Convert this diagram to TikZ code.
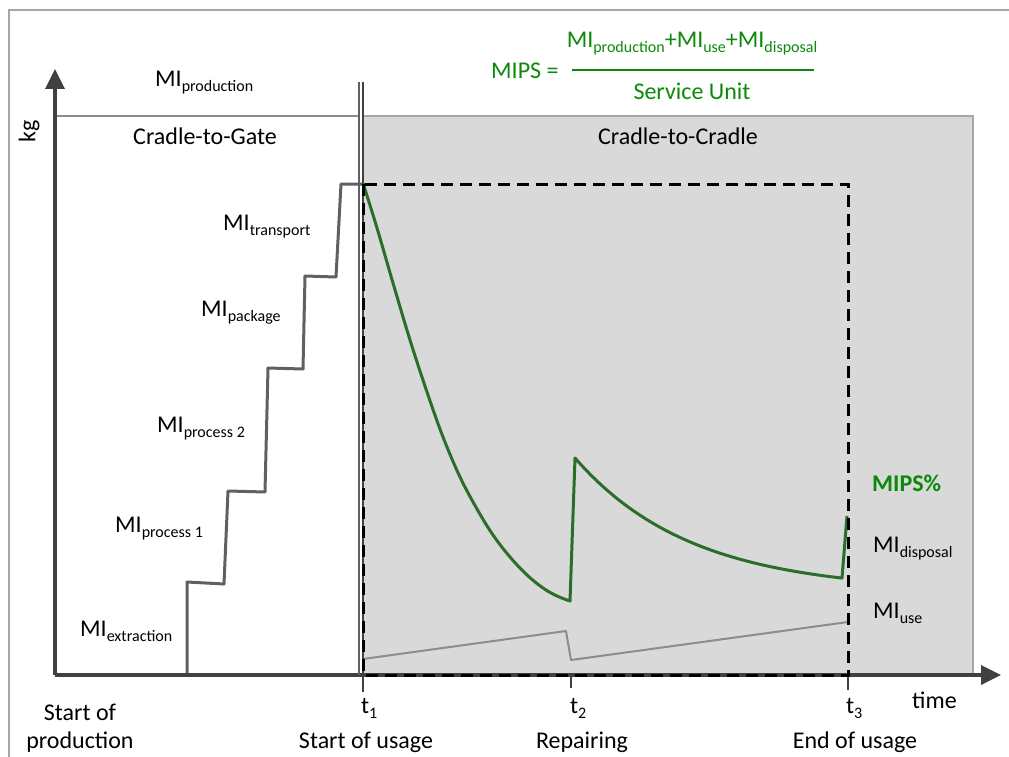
\documentclass[tikz,border=0pt]{standalone}
\usepackage{fontspec}
\setmainfont{Carlito}
\usetikzlibrary{arrows.meta}

\definecolor{framegray}{HTML}{A6A6A6}
\definecolor{axisgray}{HTML}{404040}
\definecolor{stairgray}{HTML}{606060}
\definecolor{usegray}{HTML}{8C8C8C}
\definecolor{regiongray}{HTML}{D9D9D9}
\definecolor{mipsgreen}{HTML}{0A8A0A}
\definecolor{curvegreen}{HTML}{2B6E2B}

% lowered index in a smaller size
\newcommand\lowidx[1]{\raisebox{-5pt}{\fontsize{16}{16}\selectfont #1}}

\begin{document}
\begin{tikzpicture}[x=1pt,y=-1pt,
  txt/.style={inner sep=0pt, font=\fontsize{24}{28}\selectfont},
  lbl/.style={txt, anchor=base west},
  ctr/.style={txt, anchor=base},
  frameline/.style={draw=framegray, line width=2pt},
  axisline/.style={draw=axisgray, line width=3.5pt, -{Triangle[length=20pt,width=19pt]}},
  tick/.style={draw=axisgray, line width=2pt},
  stairline/.style={draw=stairgray, line width=3pt, line join=round},
  useline/.style={draw=usegray, line width=2pt, line join=round},
  mipscurve/.style={draw=curvegreen, line width=3pt, line join=round},
  boundary/.style={draw=black, line width=3pt, dash pattern=on 12pt off 7pt},
  divider/.style={draw=axisgray, line width=2pt}]

\useasboundingbox (0,0) rectangle (1009,757);

% outer frame (top and left edges)
\draw[frameline] (1012,10) -- (9,10) -- (9,760);

% cradle-to-cradle region
\fill[regiongray] (363,116) rectangle (973,675);
\draw[draw=framegray, line width=2pt] (363,116) -- (973,116) -- (973,675);
\draw[draw=usegray, line width=1.5pt] (55,116) -- (359,116);

% staircase of the production phase
\draw[stairline] (187,675) -- (187,582) -- (224,584) -- (228,491) -- (265,492)
  -- (268,368) -- (303,369) -- (305,276) -- (336,277) -- (341,184) -- (363,184);

% material input during use
\draw[useline] (363,659) -- (566,631) -- (571,660) -- (848,622);

% MIPS curve: decline during use, repair jump, second decline, disposal jump
\draw[mipscurve]
  plot[smooth, tension=0.6] coordinates {(363,183) (377,228) (393,283) (410,340)
     (427,392) (443,437) (460,477) (477,509) (493,535) (510,557) (527,575)
     (543,588) (557,596) (570,601)}
  -- (575,458)
  -- plot[domain=575:842,samples=90] (\x,{458+133.4*(1-exp(-0.00862*(\x-575)))})
  -- (847,516);

% axes
\coordinate (origin) at (55,675);
\coordinate (ytip) at (55,69);
\coordinate (xtip) at (1001,675);
\draw[axisline] (origin) -- (ytip);
\draw[axisline] (origin) -- (xtip);

% start of usage divider (double line) and time ticks
\draw[draw=stairgray, line width=1.5pt] (359,82) -- (359,675);
\draw[divider] (363,82) -- (363,692);
\draw[tick] (571,675) -- (571,688);
\draw[tick] (848,675) -- (848,690);

% system boundary of the usage phase
\draw[boundary] (363,184) rectangle (848,675);

% formula
\node[lbl, text=mipsgreen] (mipseq) at (491,79) {MIPS =};
\node[ctr, text=mipsgreen] (numer) at (692,48)
  {MI\lowidx{production}+MI\lowidx{use}+MI\lowidx{disposal}};
\node[ctr, text=mipsgreen] (denom) at (692,100) {Service Unit};
\coordinate (barL) at (572,70);
\coordinate (barR) at (814,70);
\draw[draw=mipsgreen, line width=2pt] (barL) -- (barR);

% region titles
\node[ctr] (ctg) at (205,144) {Cradle-to-Gate};
\node[ctr] (ctc) at (678,144) {Cradle-to-Cradle};

% axis titles
\node[txt, rotate=90] (kg) at (29,131) {kg};
\node[lbl] (time) at (912,708) {time};

% production steps
\node[lbl] (mprod) at (155,87) {MI\lowidx{production}};
\node[lbl] (mtrans) at (223,230) {MI\lowidx{transport}};
\node[lbl] (mpack) at (201,316) {MI\lowidx{package}};
\node[lbl] (mproc2) at (157,432) {MI\lowidx{process 2}};
\node[lbl] (mproc1) at (115,532) {MI\lowidx{process 1}};
\node[lbl] (mextr) at (80,636) {MI\lowidx{extraction}};

% usage phase labels
\node[lbl, text=mipsgreen, font=\fontsize{24}{28}\selectfont\bfseries] (mipspct) at (872,491) {MIPS\%};
\node[lbl] (mdisp) at (873,552) {MI\lowidx{disposal}};
\node[lbl] (muse) at (873,618) {MI\lowidx{use}};

% time points
\node[lbl] (t1) at (361,713) {t\lowidx{1}};
\node[lbl] (t2) at (570,713) {t\lowidx{2}};
\node[lbl] (t3) at (846,713) {t\lowidx{3}};
\node[ctr] (startp1) at (80,720) {Start of};
\node[ctr] (startp2) at (80,748) {production};
\node[ctr] (startu) at (366,748) {Start of usage};
\node[ctr] (repair) at (582,748) {Repairing};
\node[ctr] (endu) at (855,748) {End of usage};

\end{tikzpicture}
\end{document}
